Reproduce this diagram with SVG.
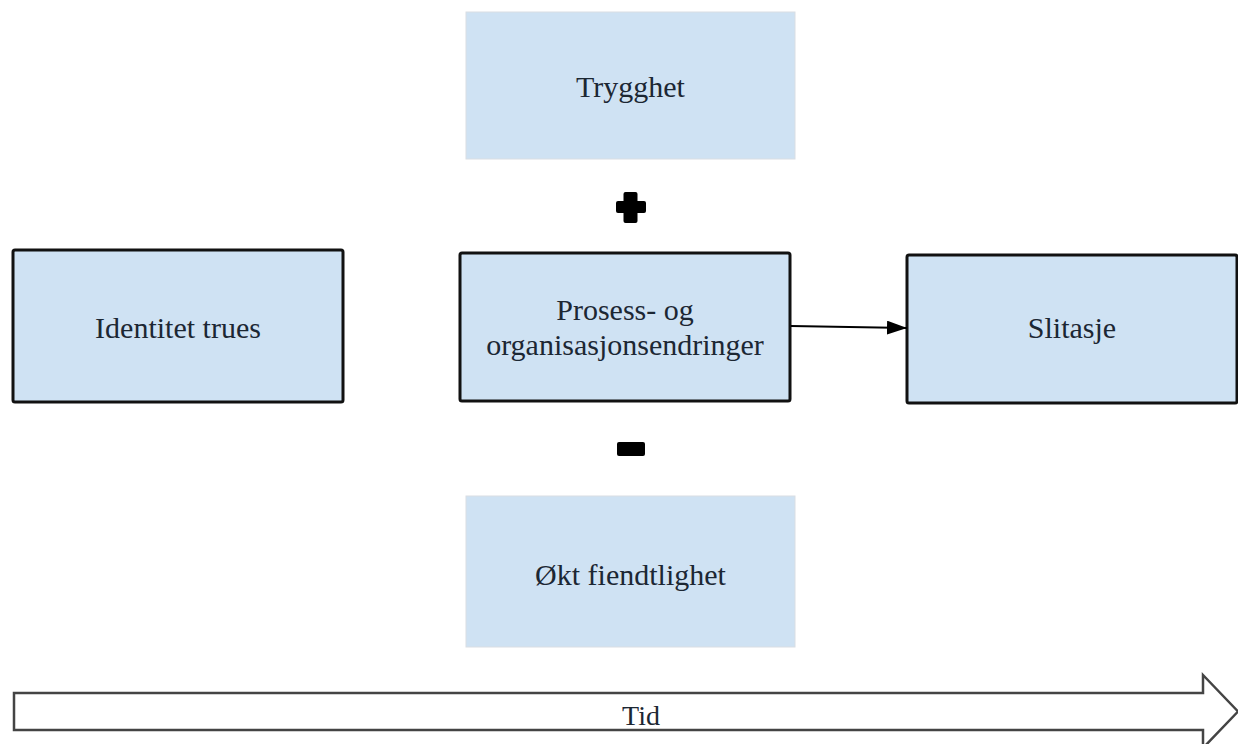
<svg xmlns="http://www.w3.org/2000/svg" width="1238" height="744" viewBox="0 0 1238 744">
  <defs>
    <style>
      .box { fill: #cfe2f3; stroke: #111; stroke-width: 3; }
      .soft { fill: #cfe2f3; stroke: #d9dee3; stroke-width: 1; }
      .lbl { font-family: 'Liberation Serif', 'Times New Roman', serif; font-size: 30px; fill: #1c2733; text-anchor: middle; }
      .sign { fill: #000; }
      .link { stroke: #000; stroke-width: 2; fill: none; }
    </style>
    <marker id="head" viewBox="0 0 20 14" refX="20" refY="7" markerWidth="20" markerHeight="14" markerUnits="userSpaceOnUse" orient="auto">
      <path d="M0,0 L20,7 L0,14 Z" fill="#000"/>
    </marker>
  </defs>
  <rect width="1238" height="744" fill="#fff"/>

  <g id="trygghet">
    <rect class="soft" x="466" y="12" width="329" height="147"/>
    <text class="lbl" x="630.5" y="97">Trygghet</text>
  </g>

  <g id="pluss">
    <rect class="sign" x="623.5" y="192" width="14" height="31" rx="2"/>
    <rect class="sign" x="616" y="201" width="30" height="12" rx="2"/>
  </g>

  <g id="identitet">
    <rect class="box" x="13" y="250" width="330" height="152" rx="2"/>
    <text class="lbl" x="178" y="338">Identitet trues</text>
  </g>

  <g id="prosess">
    <rect class="box" x="460" y="253" width="330" height="148" rx="2"/>
    <text class="lbl" x="625" y="320">Prosess- og</text>
    <text class="lbl" x="625" y="355">organisasjonsendringer</text>
  </g>

  <g id="slitasje">
    <rect class="box" x="907" y="255" width="330" height="148" rx="2"/>
    <text class="lbl" x="1072" y="338">Slitasje</text>
  </g>

  <g id="minus">
    <rect class="sign" x="617" y="442" width="28" height="14" rx="2"/>
  </g>

  <g id="fiendtlighet">
    <rect class="soft" x="466" y="496" width="329" height="151"/>
    <text class="lbl" x="630.5" y="585">Økt fiendtlighet</text>
  </g>

  <g id="tid">
    <path d="M14,693 L1203,693 L1203,675 L1238,711.5 L1203,748 L1203,730 L14,730 Z" fill="#fff" stroke="#444" stroke-width="2.5" stroke-linejoin="miter"/>
    <text class="lbl" x="641" y="725" style="font-size:28px">Tid</text>
  </g>

  <g id="connectors">
    <line class="link" x1="791" y1="326" x2="907" y2="328" marker-end="url(#head)"/>
  </g>
</svg>
